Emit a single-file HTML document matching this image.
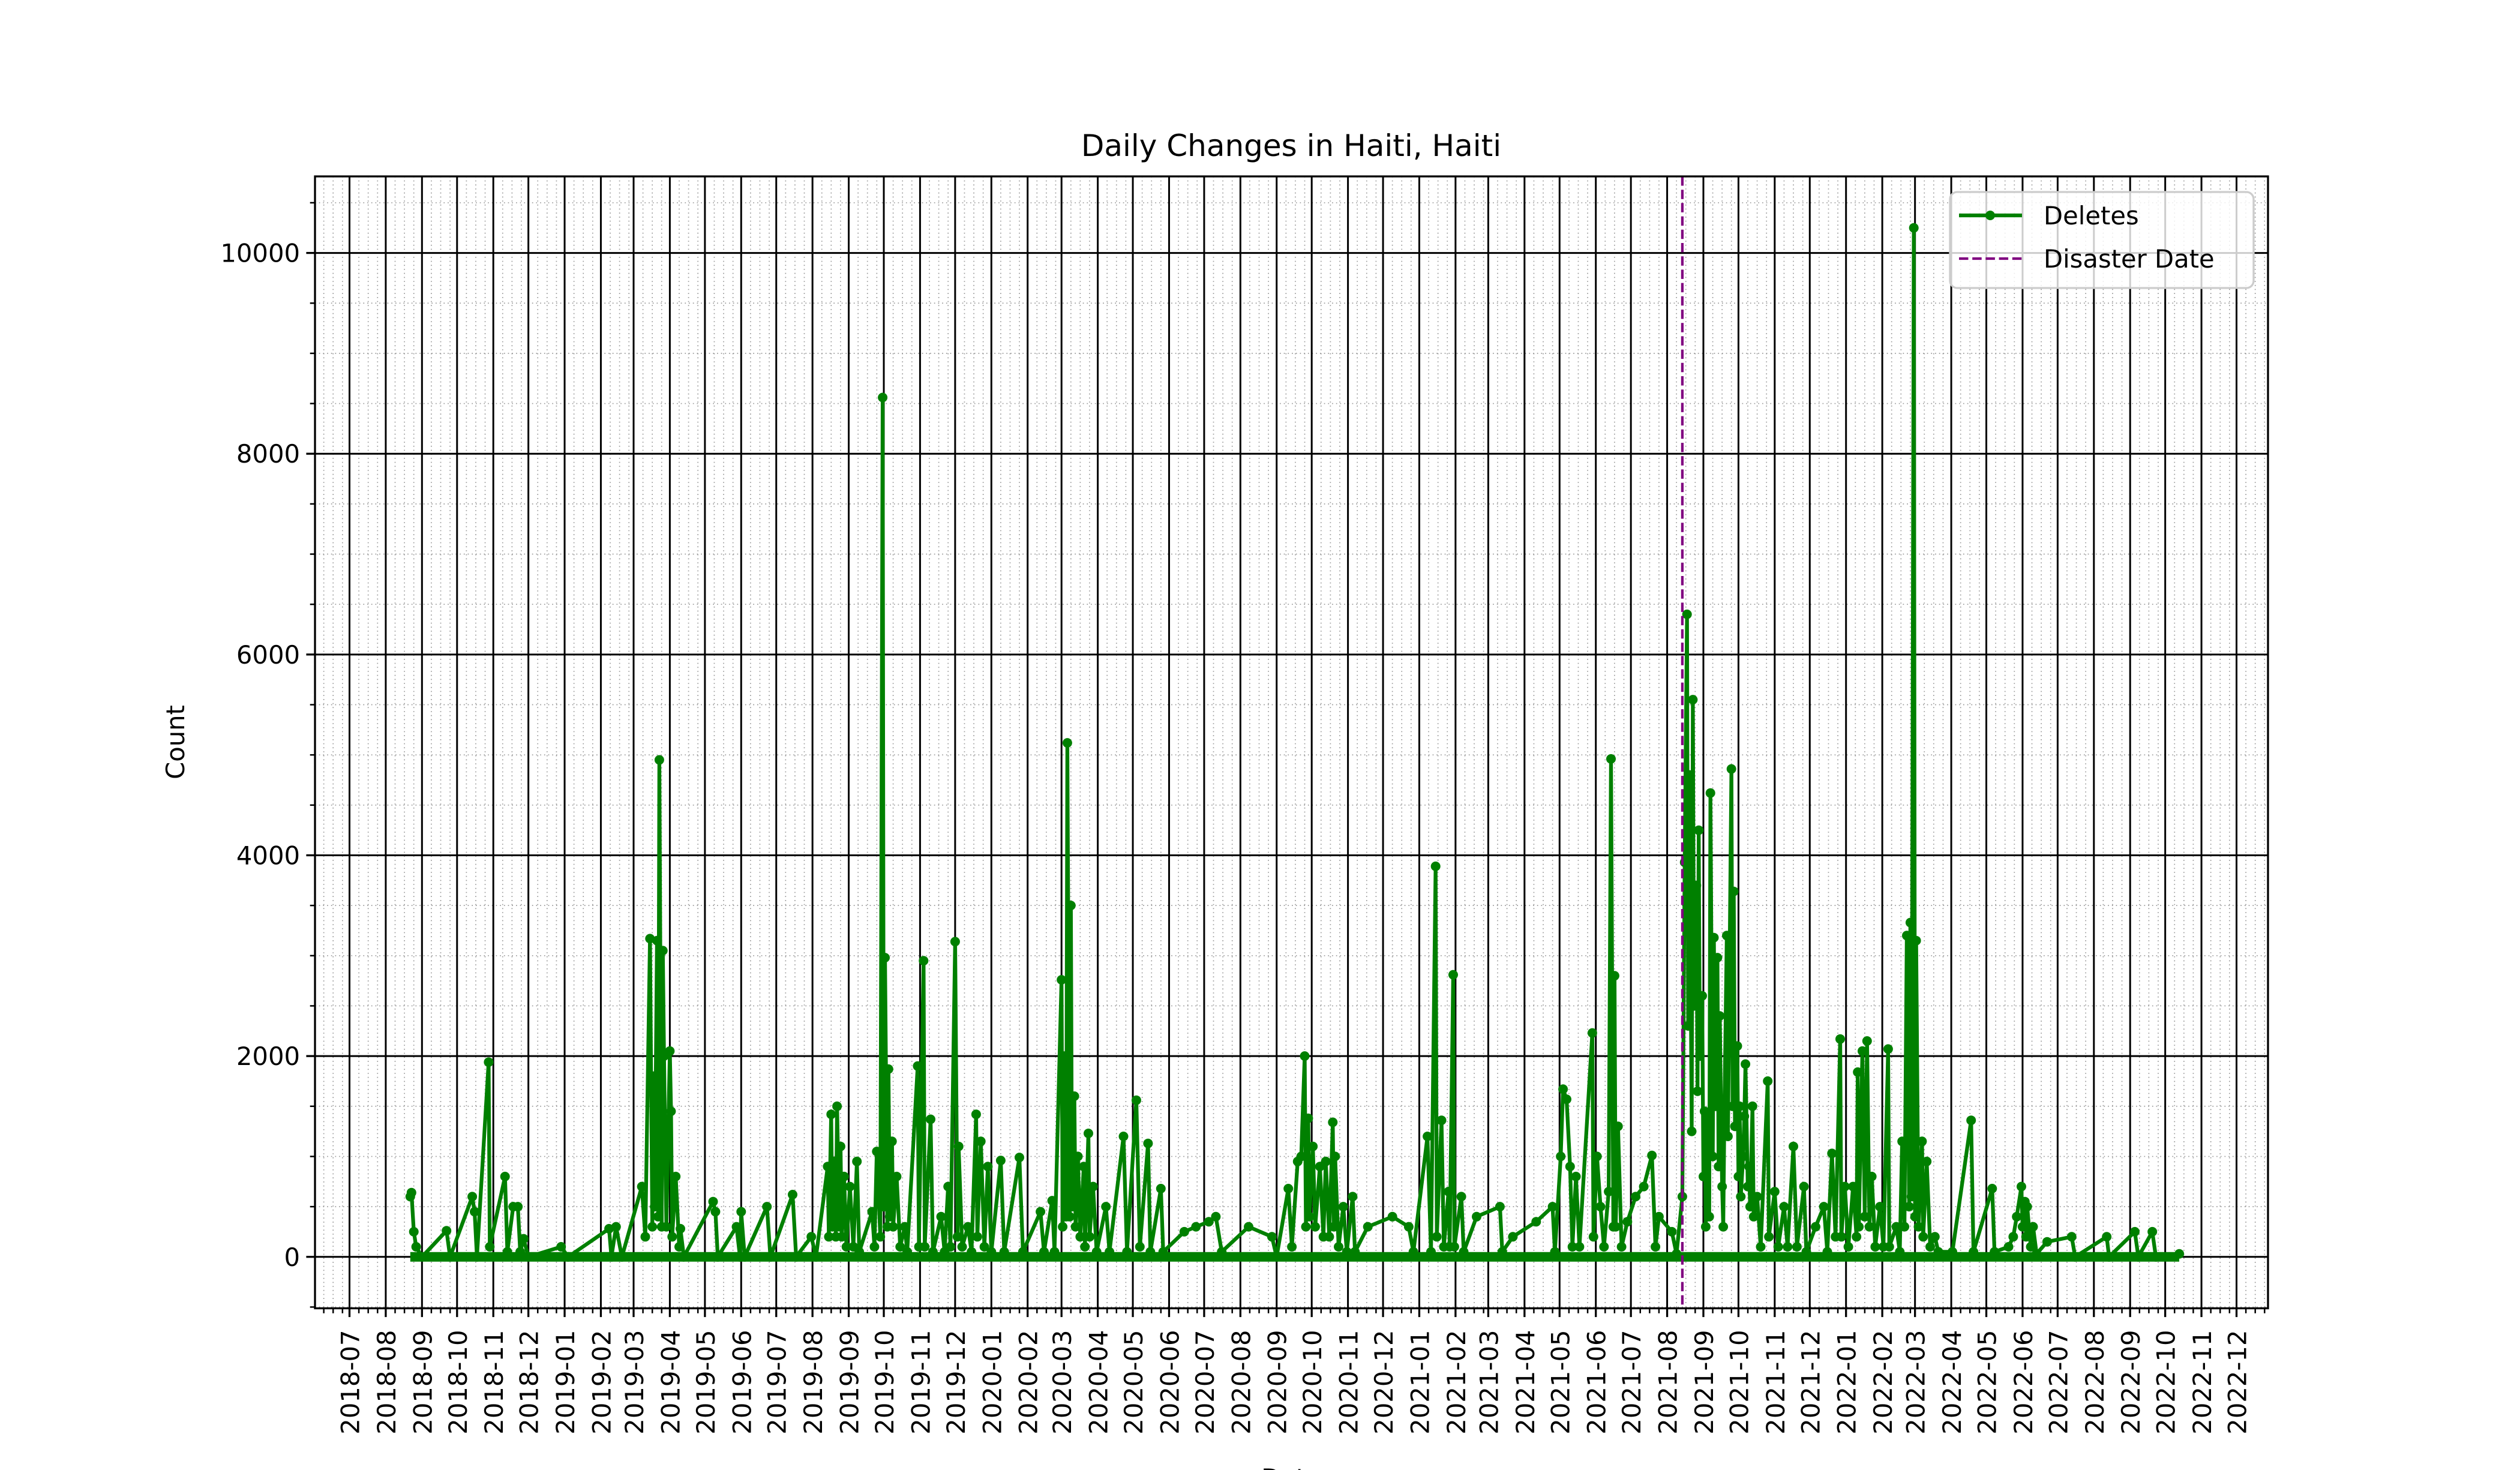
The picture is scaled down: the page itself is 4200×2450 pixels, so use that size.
<!DOCTYPE html>
<html><head><meta charset="utf-8"><title>Daily Changes in Haiti, Haiti</title>
<style>html,body{margin:0;padding:0;background:#fff}svg{display:block;font-family:"DejaVu Sans","Liberation Sans",sans-serif}</style>
</head><body>
<svg id="chart" width="4200" height="2450" viewBox="0 0 4200 2450" xmlns="http://www.w3.org/2000/svg">
<rect x="0" y="0" width="4200" height="2450" fill="#fff"/>
<g id="grid"></g>
<g id="marks"></g>
<g id="axes"></g>
<text x="2152" y="260" font-size="50" text-anchor="middle">Daily Changes in Haiti, Haiti</text>
<text x="0" y="0" font-size="41.7" text-anchor="middle" transform="translate(307,1237) rotate(-90)">Count</text>
<text x="2152" y="2478" font-size="41.7" text-anchor="middle">Date</text>
<g>
<rect x="3250" y="320" width="506" height="160" rx="12" fill="#fff" fill-opacity="0.8" stroke="#ccc" stroke-width="3.3"/>
<g>
<line x1="3265" y1="359" x2="3370" y2="359" stroke="#008000" stroke-width="6.25"/>
<circle cx="3317" cy="359" r="8" fill="#008000"/>
<text x="3406" y="374" font-size="41.7">Deletes</text>
</g>
<g>
<line x1="3265" y1="431" x2="3370" y2="431" stroke="#800080" stroke-width="4.2" stroke-dasharray="15.5 6.7"/>
<text x="3406" y="446" font-size="41.7">Disaster Date</text>
</g>
</g>
</svg>
<script>
// data: day offsets from 2018-07-01 and Deletes counts
const days = [52,53,55,57,62,83,86,105,107,109,119,120,133,135,140,144,146,149,153,181,187,222,224,228,233,250,253,257,259,260,261,263,264,265,267,268,269,271,274,275,276,279,282,283,286,311,313,315,331,334,335,338,357,360,379,382,395,399,409,410,412,413,415,416,417,419,420,421,423,425,428,431,434,436,447,449,451,454,456,457,458,460,461,462,464,465,468,471,475,477,486,487,491,492,497,499,506,509,512,514,518,520,521,524,529,532,536,537,540,543,546,549,557,560,573,576,591,594,601,603,609,610,611,613,614,616,617,618,620,621,623,625,628,629,632,633,636,639,647,650,662,665,673,676,683,685,694,696,714,724,735,741,746,769,789,793,803,806,811,814,817,818,820,821,824,826,830,833,835,838,841,842,843,846,850,853,858,860,871,892,906,910,922,925,929,930,934,936,940,941,944,945,951,953,964,984,986,995,1015,1029,1031,1036,1038,1041,1044,1046,1049,1052,1063,1064,1067,1070,1073,1077,1079,1081,1082,1083,1085,1088,1093,1100,1107,1114,1117,1120,1131,1135,1140,1142,1144,1145,1146,1148,1149,1150,1152,1153,1154,1155,1157,1158,1159,1160,1162,1163,1164,1166,1167,1168,1170,1171,1172,1174,1175,1176,1178,1179,1182,1183,1184,1185,1187,1188,1189,1190,1192,1193,1194,1196,1197,1198,1200,1201,1204,1207,1213,1214,1219,1222,1227,1230,1235,1238,1244,1246,1254,1261,1264,1268,1271,1275,1276,1279,1282,1286,1289,1290,1291,1294,1296,1298,1300,1302,1305,1309,1312,1316,1317,1323,1326,1328,1330,1332,1334,1335,1336,1338,1339,1340,1342,1345,1346,1349,1352,1356,1359,1371,1387,1389,1405,1407,1419,1423,1426,1430,1431,1433,1434,1435,1438,1440,1443,1452,1473,1476,1503,1505,1527,1530,1542,1545,1565];
const deletes = [600,640,250,100,0,260,0,600,450,0,1940,100,800,50,500,500,50,180,0,100,0,280,0,300,0,700,200,3170,300,1800,500,3150,400,4950,300,3050,2000,300,2050,1450,200,800,100,280,0,550,450,0,300,0,450,0,500,0,620,0,200,0,900,200,1420,300,950,200,1500,300,1100,200,800,100,700,100,950,50,450,100,1050,200,8560,500,2980,300,1870,400,1150,300,800,100,300,50,1900,100,2950,100,1370,50,400,50,700,100,3140,200,1100,100,300,50,1420,200,1150,100,900,50,960,50,990,50,450,50,560,50,2760,300,2000,400,5120,400,3500,500,1600,300,1000,200,900,100,1230,200,700,50,500,50,1200,50,1560,100,1130,50,680,50,250,300,350,400,50,300,200,0,680,100,950,1000,2000,300,1380,400,1100,300,900,200,950,200,1340,300,1000,100,500,50,600,50,300,400,300,50,1200,50,3890,200,1360,100,650,100,2810,100,600,50,400,500,50,200,350,500,50,1000,1670,1570,900,100,800,100,2230,200,1000,500,100,650,4960,300,2800,300,1300,100,350,600,700,1010,100,400,250,30,600,3930,6400,2300,4800,1250,5550,2500,3700,1650,4250,2000,2600,800,1450,300,1380,400,4620,1000,3180,1500,2980,900,2400,700,300,1500,3200,1200,4860,1500,3640,1300,2100,800,1500,600,1000,1400,1920,700,900,500,1500,400,600,100,1750,200,650,100,500,100,1100,100,700,50,300,500,50,1030,200,2170,200,700,100,700,200,1840,300,2050,400,2150,300,800,100,500,100,2070,100,300,50,1150,300,3200,500,3330,600,10250,400,3150,300,1150,200,950,100,200,50,50,1360,50,680,50,100,200,400,700,300,550,200,500,100,300,30,150,200,0,200,0,250,0,250,0,30];
const yTicks = [0,2000,4000,6000,8000,10000];
const disasterDay = 1140;

const NS="http://www.w3.org/2000/svg";
const L=525,R=3780,T=294,B=2180.5;
const x0=582.5, pxPerDay=1.9486;
const yMin=-512.5,yMax=10762.5;
const X=d=>x0+d*pxPerDay;
const Y=v=>B-(v-yMin)/(yMax-yMin)*(B-T);
function mk(tag,attrs,parent){const e=document.createElementNS(NS,tag);for(const k in attrs)e.setAttribute(k,attrs[k]);parent.appendChild(e);return e;}
const grid=document.getElementById('grid'),axes=document.getElementById('axes'),marks=document.getElementById('marks');
const base=Date.UTC(2018,6,1),DAY=86400000;
const dayOf=(y,m,dd)=>Math.round((Date.UTC(y,m,dd)-base)/DAY);
// minor x (month days 9,17,25)
for(let i=-1;i<55;i++){const yr=2018+Math.floor((6+i)/12),mo=((6+i)%12+12)%12;
 [9,17,25].forEach(md=>{const x=X(dayOf(yr,mo,md));if(x<L||x>R)return;
 const g=mk('line',{x1:x,y1:T,x2:x,y2:B,stroke:'#999','stroke-width':1.7,'stroke-dasharray':'1.7 5'},grid);
 
 const t=mk('line',{x1:x,y1:B,x2:x,y2:B+8.3,stroke:'#000','stroke-width':2.5},axes);
 });}
// minor y
for(let v=-500;v<=10500;v+=500){const y=Y(v);
 const g=mk('line',{x1:L,y1:y,x2:R,y2:y,stroke:'#999','stroke-width':1.7,'stroke-dasharray':'1.7 5'},grid);
 
 const t=mk('line',{x1:L-8.3,y1:y,x2:L,y2:y,stroke:'#000','stroke-width':2.5},axes);
 }
// major x months
for(let i=0;i<54;i++){const yr=2018+Math.floor((6+i)/12),mo=(6+i)%12;const x=X(dayOf(yr,mo,1));
 const g=mk('line',{x1:x,y1:T,x2:x,y2:B,stroke:'#000','stroke-width':3},grid);
 
 const t=mk('line',{x1:x,y1:B,x2:x,y2:B+14.6,stroke:'#000','stroke-width':3.3},axes);
 
 const lb=mk('text',{x:0,y:0,'font-size':41.7,'text-anchor':'end',transform:`translate(${x+16},${B+36}) rotate(-90)`},axes);
 lb.textContent=yr+'-'+String(mo+1).padStart(2,'0');
 }
// major y
yTicks.forEach(v=>{const y=Y(v);
 const g=mk('line',{x1:L,y1:y,x2:R,y2:y,stroke:'#000','stroke-width':3},grid);
 
 const t=mk('line',{x1:L-14.6,y1:y,x2:L,y2:y,stroke:'#000','stroke-width':3.3},axes);
 
 const lb=mk('text',{x:L-25,y:y+15,'font-size':41.7,'text-anchor':'end'},axes);lb.textContent=v;
 });
// spines
const sp=mk('rect',{x:L,y:T,width:R-L,height:B-T,fill:'none',stroke:'#000','stroke-width':3.3},axes);

// series line
let dstr='';days.forEach((d,i)=>{dstr+=(i?'L':'M')+X(d).toFixed(1)+' '+Y(deletes[i]).toFixed(1);});
const pl=mk('path',{d:dstr,fill:'none',stroke:'#008000','stroke-width':6.25,'stroke-linejoin':'round'},marks);

// baseline band (daily markers overlap)
const bl=mk('line',{x1:X(days[0]),y1:Y(0),x2:X(days[days.length-1]),y2:Y(0),stroke:'#008000','stroke-width':16},marks);

days.forEach((d,i)=>{const c=mk('circle',{cx:X(d).toFixed(1),cy:Y(deletes[i]).toFixed(1),r:8,fill:'#008000'},marks);
 });
// disaster line
const dl=mk('line',{x1:X(disasterDay),y1:T,x2:X(disasterDay),y2:B,stroke:'#800080','stroke-width':4.2,'stroke-dasharray':'15.5 6.7'},marks);

</script>
</body></html>
